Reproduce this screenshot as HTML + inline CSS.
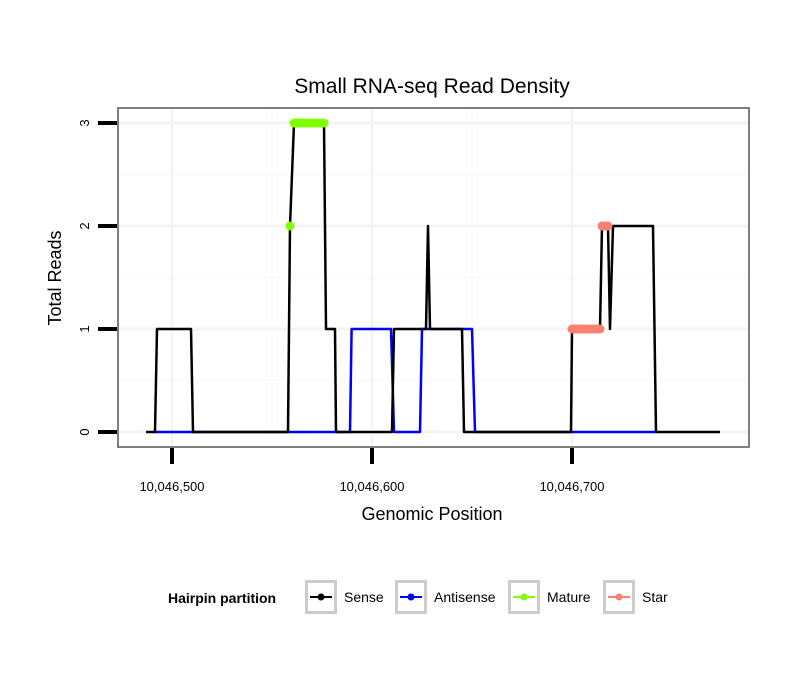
<!DOCTYPE html>
<html><head><meta charset="utf-8"><style>
body{margin:0;background:#fff;font-family:"Liberation Sans",sans-serif}
</style></head><body>
<svg id="chart" width="810" height="690" xmlns="http://www.w3.org/2000/svg" style="font-family:'Liberation Sans',sans-serif">
<rect x="0" y="0" width="810" height="690" fill="#fff"/>
<text x="432" y="93" text-anchor="middle" font-size="21">Small RNA-seq Read Density</text>
<g id="grid"></g>
<g id="series"></g>
<rect x="118" y="108" width="631" height="339" fill="none" stroke="#7f7f7f" stroke-width="2"/>
<g id="axes"></g>
<text x="432" y="520" text-anchor="middle" font-size="18">Genomic Position</text>
<text transform="translate(61,278) rotate(-90)" text-anchor="middle" font-size="18">Total Reads</text>
<g>
<text x="168" y="603" font-size="14" font-weight="bold">Hairpin partition</text>
<g id="legend"></g>
</g>
</svg>
<script>
const senseX=[487,491.5,492.5,509.5,510.5,558,559,561,576,577,581.5,582,610,611,627,628,629,645,646,699.5,700,714,715,718,719,720.5,740.5,742,774];
const senseY=[0,0,1,1,0,0,2,3,3,1,1,0,0,1,1,2,1,1,0,0,1,1,2,2,1,2,2,0,0];
const antiX=[491,589,589.8,609.5,611,624,625,650,651.5,742];
const antiY=[0,0,1,1,0,0,1,1,0,0];
const matureX=[559,561,562,563,564,565,566,567,568,569,570,571,572,573,574,575,576];
const matureY=[2,3,3,3,3,3,3,3,3,3,3,3,3,3,3,3,3];
const starX=[700,701,702,703,704,705,706,707,708,709,710,711,712,713,714,715,716,717,718];
const starY=[1,1,1,1,1,1,1,1,1,1,1,1,1,1,1,2,2,2,2];
const xTicks=[500,600,700];
const xTickLabels=["10,046,500","10,046,600","10,046,700"];
const yTicks=[0,1,2,3];
const NS="http://www.w3.org/2000/svg";
const sx=p=>172+(p-500)*2;
const sy=v=>432-v*103;
function mk(tag,attrs,parent){const e=document.createElementNS(NS,tag);for(const k in attrs)e.setAttribute(k,attrs[k]);parent.appendChild(e);return e;}
const grid=document.getElementById('grid'),ser=document.getElementById('series'),ax=document.getElementById('axes'),lg=document.getElementById('legend');
[550,650].forEach(p=>{const l=mk('line',{x1:sx(p),x2:sx(p),y1:109,y2:446,stroke:'#f9f9f9','stroke-width':1.5},grid);

});
[0.5,1.5,2.5].forEach(v=>{const l=mk('line',{x1:119,x2:748,y1:sy(v),y2:sy(v),stroke:'#f9f9f9','stroke-width':1.5},grid);

});
xTicks.forEach(p=>{const l=mk('line',{x1:sx(p),x2:sx(p),y1:109,y2:446,stroke:'#f4f4f4','stroke-width':3},grid);

});
yTicks.forEach(v=>{const l=mk('line',{x1:119,x2:748,y1:sy(v),y2:sy(v),stroke:'#f4f4f4','stroke-width':3},grid);

});
function line(xs,ys,color,name){const pts=xs.map((p,i)=>sx(p)+','+sy(ys[i])).join(' ');
const pl=mk('polyline',{points:pts,fill:'none',stroke:color,'stroke-width':2.5,'stroke-linejoin':'round'},ser);

}
function pts(xs,ys,color,name){xs.forEach((p,i)=>{const c=mk('circle',{cx:sx(p),cy:sy(ys[i]),r:4.5,fill:color},ser);

});}
line(antiX,antiY,'#0000ff','antisense-line');
line(senseX,senseY,'#000','sense-line');
pts(matureX,matureY,'#7fff00','mature-point');
pts(starX,starY,'#fa8072','star-point');
xTicks.forEach((p,i)=>{const t=mk('line',{x1:sx(p),x2:sx(p),y1:448,y2:464,stroke:'#000','stroke-width':4},ax);


const tx=mk('text',{x:sx(p),y:491,'text-anchor':'middle','font-size':13},ax);tx.textContent=xTickLabels[i];

});
yTicks.forEach(v=>{const t=mk('line',{x1:98,x2:117,y1:sy(v),y2:sy(v),stroke:'#000','stroke-width':4},ax);


const tx=mk('text',{transform:`translate(89,${sy(v)}) rotate(-90)`,'text-anchor':'middle','font-size':13},ax);tx.textContent=v;

});
const lgNames=['Sense','Antisense','Mature','Star'],lgColors=['#000','#0000ff','#7fff00','#fa8072'],lgX=[305,395,508,603];
lgNames.forEach((n,i)=>{const g=mk('g',{},lg);


mk('rect',{x:lgX[i]+1.5,y:581.5,width:29,height:31,fill:'#fff',stroke:'#cccccc','stroke-width':3},g);
mk('line',{x1:lgX[i]+5,x2:lgX[i]+27,y1:597,y2:597,stroke:lgColors[i],'stroke-width':2},g);
mk('circle',{cx:lgX[i]+16,cy:597,r:3.5,fill:lgColors[i]},g);
const t=mk('text',{x:lgX[i]+39,y:602,'font-size':14},g);t.textContent=n;});
</script>
</body></html>
